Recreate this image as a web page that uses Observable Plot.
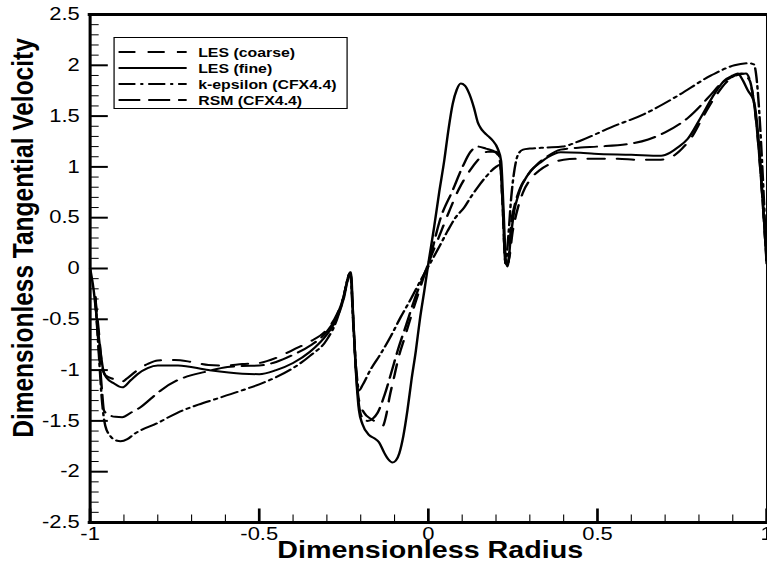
<!DOCTYPE html>
<html>
<head>
<meta charset="utf-8">
<script src="https://cdn.jsdelivr.net/npm/d3@7"></script>
<script src="https://cdn.jsdelivr.net/npm/@observablehq/plot@0.6"></script>
<style>
  html, body { margin: 0; padding: 0; background: #fff; overflow: hidden; }
  #wrap { position: relative; height: 571px; transform-origin: 0 0; }
  #legend { position: absolute; box-sizing: border-box; border: 1px solid #000; background: #fff;
            font-family: 'Liberation Sans', Arial, sans-serif; font-weight: bold; font-size: 13px; color: #000; }
  #legend .row { display: flex; align-items: center; height: 16px; white-space: nowrap; }
  #legend svg { display: block; }
</style>
</head>
<body>
<div id="wrap"><div id="chart"></div><div id="legend"></div></div>
<script>
// ---- data ----
const seriesNames = ["LES (coarse)", "LES (fine)", "k-epsilon (CFX4.4)", "RSM (CFX4.4)"];
const seriesDash = ["14,10", null, "14,4,2.5,4", "18,6.5"];

const xTicks = [-1, -0.5, 0, 0.5, 1];
const yTicks = [-2.5, -2, -1.5, -1, -0.5, 0, 0.5, 1, 1.5, 2, 2.5];
const xMinorTicks = d3.range(-10, 11).filter(i => i % 5 !== 0).map(i => i / 10);
const yMinorTicks = d3.range(-25, 26).filter(i => i % 5 !== 0).map(i => i / 10);

const lesFine = [
[-1,0],[-0.99,-0.2],[-0.98,-0.5],[-0.97,-0.8],[-0.96,-1.02],[-0.95,-1.08],[-0.93,-1.13],[-0.905,-1.17],
[-0.88,-1.1],[-0.86,-1.04],[-0.83,-0.98],[-0.8,-0.955],[-0.74,-0.955],[-0.65,-1.0],[-0.55,-1.035],[-0.5,-1.04],
[-0.45,-1.0],[-0.4,-0.93],[-0.35,-0.82],[-0.3,-0.65],[-0.279,-0.544],[-0.249,-0.28],[-0.239,-0.12],[-0.229,-0.036],
[-0.222,-0.5],[-0.215,-0.97],[-0.205,-1.4],[-0.195,-1.53],[-0.175,-1.64],[-0.16,-1.67],[-0.146,-1.71],[-0.131,-1.81],
[-0.118,-1.88],[-0.106,-1.91],[-0.096,-1.89],[-0.086,-1.82],[-0.074,-1.65],[-0.062,-1.4],[-0.05,-1.1],[-0.037,-0.81],
[-0.025,-0.5],[-0.012,-0.22],[0,0.05],[0.017,0.406],[0.032,0.75],[0.047,1.063],[0.06,1.38],[0.072,1.62],[0.084,1.76],
[0.096,1.82],[0.108,1.8],[0.121,1.72],[0.135,1.58],[0.146,1.44],[0.155,1.38],[0.165,1.34],[0.178,1.3],[0.19,1.26],
[0.205,1.18],[0.215,1.06],[0.222,0.6],[0.229,0.08],[0.234,0.02],[0.244,0.32],[0.254,0.57],[0.264,0.7],[0.274,0.8],
[0.29,0.9],[0.303,0.965],[0.33,1.04],[0.353,1.095],[0.391,1.145],[0.45,1.14],[0.49,1.13],[0.6,1.12],[0.688,1.11],
[0.715,1.14],[0.737,1.19],[0.767,1.277],[0.806,1.49],[0.846,1.72],[0.875,1.85],[0.9,1.9],[0.915,1.92],[0.93,1.85],
[0.945,1.75],[0.962,1.65],[1.0,0.05]
];

const lesCoarse = [
[-0.985,-0.28],[-0.975,-0.6],[-0.965,-0.95],[-0.955,-1.05],[-0.93,-1.09],[-0.91,-1.12],[-0.89,-1.08],[-0.86,-1.0],
[-0.83,-0.94],[-0.8,-0.905],[-0.75,-0.9],[-0.7,-0.92],[-0.65,-0.95],[-0.6,-0.955],[-0.55,-0.94],[-0.5,-0.93],
[-0.45,-0.88],[-0.4,-0.8],[-0.35,-0.72],[-0.3,-0.6],[-0.27,-0.45],[-0.25,-0.27],[-0.24,-0.12],[-0.231,-0.04],
[-0.222,-0.5],[-0.215,-0.95],[-0.205,-1.3],[-0.19,-1.42],[-0.17,-1.48],[-0.15,-1.52],[-0.135,-1.55],[-0.125,-1.45],
[-0.115,-1.27],[-0.1,-1.05],[-0.09,-0.9],[-0.07,-0.68],[-0.052,-0.48],[-0.03,-0.25],[0,0.05],[0.03,0.3],[0.06,0.55],
[0.09,0.78],[0.12,0.95],[0.15,1.08],[0.175,1.15],[0.2,1.15],[0.212,1.08],[0.22,0.6],[0.228,0.05],[0.235,0.05],
[0.25,0.38],[0.265,0.6],[0.28,0.75],[0.3,0.87],[0.33,0.97],[0.36,1.03],[0.4,1.07],[0.45,1.08],[0.5,1.08],[0.56,1.08],
[0.62,1.07],[0.68,1.07],[0.72,1.1],[0.75,1.18],[0.78,1.3],[0.81,1.48],[0.85,1.7],[0.88,1.83],[0.91,1.9],[0.939,1.92],
[0.962,1.65],[1.0,0.08]
];

const kEpsilon = [
[-0.985,-0.28],[-0.975,-0.8],[-0.965,-1.3],[-0.955,-1.55],[-0.94,-1.65],[-0.925,-1.69],[-0.91,-1.7],[-0.89,-1.68],
[-0.87,-1.63],[-0.8,-1.52],[-0.742,-1.42],[-0.68,-1.34],[-0.624,-1.28],[-0.56,-1.21],[-0.5,-1.14],[-0.45,-1.07],
[-0.4,-0.98],[-0.35,-0.86],[-0.3,-0.7],[-0.27,-0.5],[-0.25,-0.27],[-0.24,-0.12],[-0.231,-0.04],[-0.222,-0.55],
[-0.213,-1.0],[-0.205,-1.2],[-0.195,-1.15],[-0.17,-0.99],[-0.141,-0.84],[-0.11,-0.66],[-0.082,-0.48],[-0.05,-0.29],
[-0.023,-0.118],[0,0.02],[0.03,0.2],[0.057,0.37],[0.08,0.5],[0.106,0.6],[0.125,0.7],[0.146,0.8],[0.175,0.92],
[0.2,1.0],[0.212,1.02],[0.22,0.6],[0.228,0.05],[0.236,0.3],[0.245,0.7],[0.255,0.98],[0.265,1.12],[0.28,1.17],
[0.3,1.18],[0.35,1.19],[0.397,1.2],[0.451,1.26],[0.54,1.39],[0.638,1.52],[0.737,1.7],[0.836,1.9],[0.905,2.0],
[0.949,2.02],[0.962,2.01],[1.0,0.08]
];

const rsm = [
[-0.985,-0.28],[-0.975,-0.75],[-0.965,-1.2],[-0.959,-1.4],[-0.945,-1.44],[-0.925,-1.46],[-0.905,-1.463],[-0.88,-1.42],
[-0.851,-1.365],[-0.82,-1.28],[-0.791,-1.2],[-0.742,-1.1],[-0.7,-1.05],[-0.663,-1.02],[-0.594,-0.97],[-0.55,-0.96],
[-0.5,-0.955],[-0.45,-0.92],[-0.4,-0.85],[-0.35,-0.76],[-0.3,-0.62],[-0.27,-0.46],[-0.25,-0.27],[-0.24,-0.12],
[-0.231,-0.04],[-0.222,-0.5],[-0.215,-0.95],[-0.205,-1.35],[-0.195,-1.47],[-0.18,-1.5],[-0.165,-1.48],[-0.15,-1.42],
[-0.13,-1.25],[-0.11,-1.03],[-0.09,-0.8],[-0.065,-0.55],[-0.042,-0.315],[-0.02,-0.12],[0,0.05],[0.037,0.505],
[0.072,0.77],[0.101,1.0],[0.125,1.15],[0.146,1.2],[0.17,1.18],[0.2,1.14],[0.212,1.05],[0.22,0.6],[0.228,0.05],
[0.236,0.05],[0.245,0.45],[0.255,0.62],[0.27,0.78],[0.29,0.9],[0.32,1.02],[0.35,1.1],[0.391,1.17],[0.45,1.19],
[0.5,1.2],[0.6,1.23],[0.65,1.27],[0.7,1.34],[0.77,1.49],[0.835,1.71],[0.865,1.82],[0.895,1.88],[0.925,1.92],
[0.95,1.85],[0.962,1.65],[1.0,0.08]
];

const seriesData = [lesCoarse, lesFine, kEpsilon, rsm];

// ---- layout ----
const S = 1.22;                 // reference is horizontally stretched
const W = 767 / S, H = 571;
const ML = 89.5 / S, MR = 1 / S, MT = 14, MB = 49;
const plotW = W - ML - MR, plotH = H - MT - MB;
const fmt = d => String(d);
const x0 = xTicks[0], x1 = xTicks[xTicks.length - 1];
const y0 = yTicks[0], y1 = yTicks[yTicks.length - 1];
// tick lengths (pixels) converted to data units so the ticks point inward
const xPx = (x1 - x0) / plotW, yPx = (y1 - y0) / plotH;

document.getElementById("wrap").style.width = W + "px";
document.getElementById("wrap").style.transform = `scaleX(${S})`;

const lineMarks = [0, 2, 3, 1].map(i => Plot.line(seriesData[i], {
  x: d => d[0], y: d => d[1], curve: "monotone-x",
  stroke: "black", strokeWidth: 2, strokeDasharray: seriesDash[i] || undefined
}));

const chart = Plot.plot({
  width: W, height: H,
  marginLeft: ML, marginRight: MR, marginTop: MT, marginBottom: MB,
  x: {domain: [x0, x1]},
  y: {domain: [y0, y1]},
  style: {fontFamily: "'Liberation Sans', Arial, sans-serif", fontSize: "18px", color: "black", background: "white", overflow: "visible"},
  marks: [
    Plot.ruleX(xMinorTicks, {x: d => d, y1: y0, y2: y0 + 7.5 * yPx, strokeWidth: 0.9}),
    Plot.ruleX(xTicks, {x: d => d, y1: y0, y2: y0 + 13.5 * yPx, strokeWidth: 2.2}),
    Plot.ruleY(yMinorTicks, {y: d => d, x1: x0, x2: x0 + 7.5 * xPx, strokeWidth: 1}),
    Plot.ruleY(yTicks, {y: d => d, x1: x0, x2: x0 + 15 * xPx, strokeWidth: 2}),
    Plot.axisX(xTicks, {tickSize: 0, tickPadding: 5, tickFormat: fmt, label: null}),
    Plot.axisY(yTicks, {tickSize: 0, tickPadding: 8.5, tickFormat: fmt, label: null}),
    ...lineMarks,
    Plot.ruleX([x0], {strokeWidth: 2.5}),
    Plot.ruleX([x1], {strokeWidth: 1}),
    Plot.ruleY([y0], {strokeWidth: 3, strokeLinecap: "square"}),
    Plot.ruleY([y1], {strokeWidth: 3, strokeLinecap: "square"}),
    Plot.text(["Dimensionless Radius"], {text: d => d, frameAnchor: "bottom", textAnchor: "middle", lineAnchor: "middle",
      dx: 1.5, dy: 28, fontSize: 23.5, fontWeight: "bold"}),
    Plot.text(["Dimensionless Tangential Velocity"], {text: d => d, frameAnchor: "left", textAnchor: "middle", lineAnchor: "middle",
      rotate: -90, dx: 19 - ML, dy: -30.5, fontSize: 24.5, fontWeight: "bold"})
  ]
});
document.getElementById("chart").appendChild(chart);

// ---- legend ----
const legend = document.getElementById("legend");
const LX = 114 / S;
legend.style.left = LX + "px";
legend.style.top = "37px";
legend.style.width = (348 / S - LX) + "px";
legend.style.height = "72px";
legend.style.paddingTop = "6px";
seriesNames.forEach((name, i) => {
  const row = document.createElement("div");
  row.className = "row";
  const dash = seriesDash[i] ? ` stroke-dasharray="${seriesDash[i]}"` : "";
  row.innerHTML = `<svg width="60" height="6" style="margin-left:3px"><line x1="0" y1="3" x2="56" y2="3" stroke="black" stroke-width="2"${dash}/></svg><span style="margin-left:5px">${name}</span>`;
  legend.appendChild(row);
});
</script>
</body>
</html>
